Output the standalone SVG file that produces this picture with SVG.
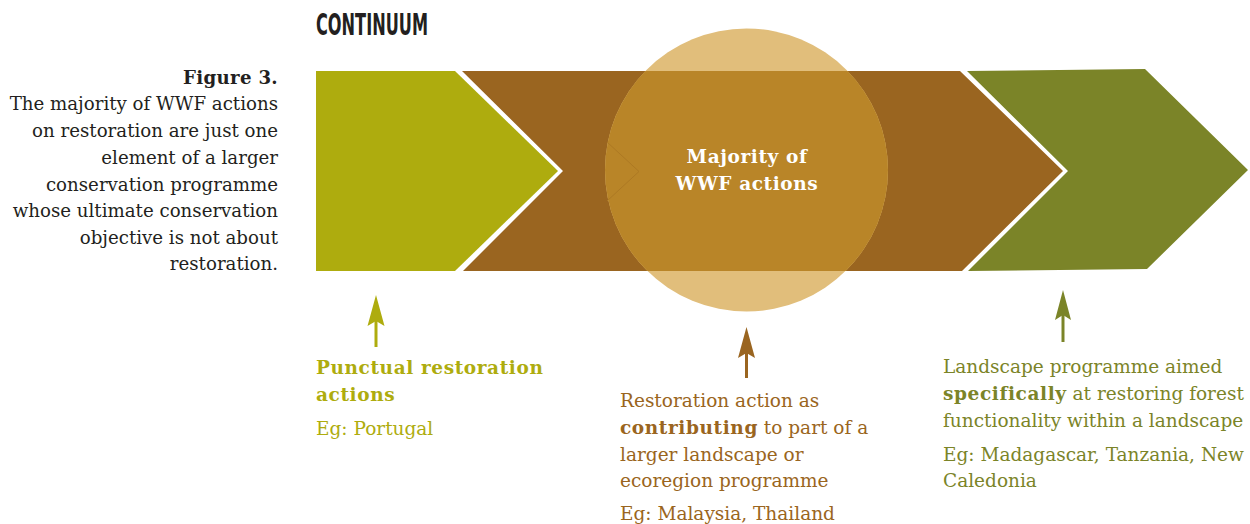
<svg xmlns="http://www.w3.org/2000/svg" width="1250" height="524" viewBox="0 0 1250 524">
<style>
.serif{font-family:"DejaVu Serif","Liberation Serif",serif;font-size:18.5px}
.b{font-weight:bold;letter-spacing:0.6px}
.cap{fill:#231F20;text-anchor:end;font-size:18.2px}
.g{fill:#AEAC0E}
.br{fill:#9A6520}
.ol{fill:#7B8428}
</style>
<defs>
<clipPath id="band"><rect x="300" y="71" width="900" height="200"/></clipPath>
</defs>
<rect width="1250" height="524" fill="#FFFFFF"/>
<text x="316" y="35" font-family="'DejaVu Sans Condensed','DejaVu Sans',sans-serif" font-weight="bold" font-size="30" fill="#231F20" textLength="112" lengthAdjust="spacingAndGlyphs">CONTINUUM</text>
<g id="caption" class="serif cap">
<text x="278" y="84" class="b" style="letter-spacing:0.3px">Figure 3.</text>
<text x="278" y="110">The majority of WWF actions</text>
<text x="278" y="137">on restoration are just one</text>
<text x="278" y="164">element of a larger</text>
<text x="278" y="191">conservation programme</text>
<text x="278" y="217">whose ultimate conservation</text>
<text x="278" y="244">objective is not about</text>
<text x="278" y="270">restoration.</text>
</g>
<g id="stage1"><polygon points="316,71 455,71 558,171 455,271 316,271" fill="#AEAC0E"/></g>
<g id="stage2"><polygon points="462,71 960,71 1063,171 962,271 463,271 563,171" fill="#9A6520"/></g>
<g id="stage3"><polygon points="967,71 1145,69 1248,170 1147,269 968,271 1068,171" fill="#7B8428"/></g>
<g id="majority">
<circle cx="746.5" cy="170" r="141.5" fill="#E1BE7B"/>
<circle cx="746.5" cy="170" r="141.5" fill="#B98528" clip-path="url(#band)"/>
<polyline points="607,142 639,171.5 607,201" fill="none" stroke="#AD7923" stroke-width="1" clip-path="url(#band)"/>
<text x="747" y="163" class="serif b" fill="#FFFFFF" text-anchor="middle">Majority of</text>
<text x="747" y="190" class="serif b" fill="#FFFFFF" text-anchor="middle">WWF actions</text>
</g>
<g id="connectors">
<line x1="376" y1="347" x2="376" y2="318" stroke="#AEAC0E" stroke-width="3"/>
<polygon points="376,295 367.5,326 376,321 384.5,326" fill="#AEAC0E"/>
<line x1="746.5" y1="378" x2="746.5" y2="352" stroke="#9A6520" stroke-width="3"/>
<polygon points="746.5,327 738,358 746.5,353 755,358" fill="#9A6520"/>
<line x1="1063" y1="342" x2="1063" y2="314" stroke="#7B8428" stroke-width="3"/>
<polygon points="1063,290 1055,320 1063,315 1071,320" fill="#7B8428"/>
</g>
<g id="label1" class="serif g">
<text x="316" y="374" class="b">Punctual restoration</text>
<text x="316" y="401" class="b">actions</text>
<text x="316" y="435">Eg: Portugal</text>
</g>
<g id="label2" class="serif br">
<text x="620" y="407">Restoration action as</text>
<text x="620" y="434"><tspan class="b">contributing</tspan> to part of a</text>
<text x="620" y="461">larger landscape or</text>
<text x="620" y="487">ecoregion programme</text>
<text x="620" y="520">Eg: Malaysia, Thailand</text>
</g>
<g id="label3" class="serif ol">
<text x="943" y="373">Landscape programme aimed</text>
<text x="943" y="400"><tspan class="b">specifically</tspan> at restoring forest</text>
<text x="943" y="427">functionality within a landscape</text>
<text x="943" y="461">Eg: Madagascar, Tanzania, New</text>
<text x="943" y="487">Caledonia</text>
</g>
</svg>
